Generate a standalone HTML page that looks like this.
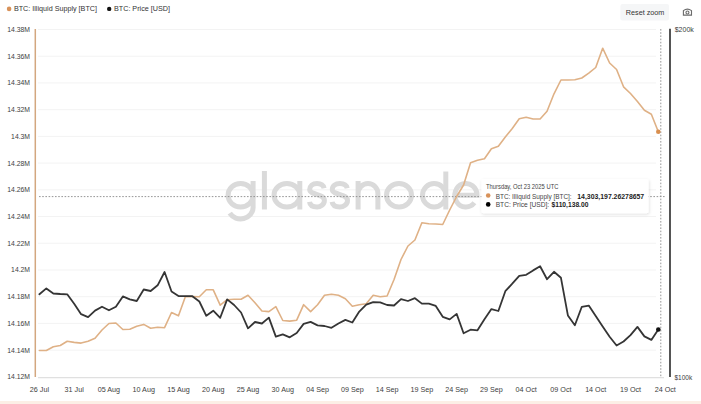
<!DOCTYPE html>
<html><head><meta charset="utf-8">
<style>
html,body{margin:0;padding:0;background:#fff;}
body{width:701px;height:404px;overflow:hidden;position:relative;font-family:"Liberation Sans",sans-serif;}
svg{position:absolute;left:0;top:0;}
.band{position:absolute;left:0;top:401px;width:701px;height:3px;background:#fcefe6;}
</style></head><body>
<svg width="701" height="404" viewBox="0 0 701 404" font-family="Liberation Sans, sans-serif">
<!-- gridlines -->
<line x1="38" y1="29.50" x2="656" y2="29.50" stroke="#f3f3f3" stroke-width="1"/>
<line x1="38" y1="56.22" x2="656" y2="56.22" stroke="#f3f3f3" stroke-width="1"/>
<line x1="38" y1="82.94" x2="656" y2="82.94" stroke="#f3f3f3" stroke-width="1"/>
<line x1="38" y1="109.66" x2="656" y2="109.66" stroke="#f3f3f3" stroke-width="1"/>
<line x1="38" y1="136.38" x2="656" y2="136.38" stroke="#f3f3f3" stroke-width="1"/>
<line x1="38" y1="163.10" x2="656" y2="163.10" stroke="#f3f3f3" stroke-width="1"/>
<line x1="38" y1="189.82" x2="656" y2="189.82" stroke="#f3f3f3" stroke-width="1"/>
<line x1="38" y1="216.54" x2="656" y2="216.54" stroke="#f3f3f3" stroke-width="1"/>
<line x1="38" y1="243.26" x2="656" y2="243.26" stroke="#f3f3f3" stroke-width="1"/>
<line x1="38" y1="269.98" x2="656" y2="269.98" stroke="#f3f3f3" stroke-width="1"/>
<line x1="38" y1="296.70" x2="656" y2="296.70" stroke="#f3f3f3" stroke-width="1"/>
<line x1="38" y1="323.42" x2="656" y2="323.42" stroke="#f3f3f3" stroke-width="1"/>
<line x1="38" y1="350.14" x2="656" y2="350.14" stroke="#f3f3f3" stroke-width="1"/>

<line x1="38" y1="377.6" x2="664" y2="377.6" stroke="#e0e0e0" stroke-width="1.2"/>
<!-- watermark -->
<g fill="none" stroke="#dadada" stroke-width="5.0" id="wm">
<ellipse cx="240.60" cy="195.25" rx="12.50" ry="11.75"/><path d="M253.10 181.00 L253.10 207.50 A12.50 11.40 0 0 1 229.77 213.20"/><line x1="264.40" y1="171.00" x2="264.40" y2="209.50"/><ellipse cx="286.90" cy="195.25" rx="12.90" ry="11.75"/><line x1="299.80" y1="181.00" x2="299.80" y2="209.50"/><path d="M324.10 188.20 C323.20 184.21 320.72 183.50 317.05 183.50 C312.64 183.50 309.70 185.85 309.70 189.61 C309.70 195.25 324.40 193.37 324.40 200.42 C324.40 204.65 320.28 207.00 317.05 207.00 C312.64 207.00 310.00 205.12 309.50 201.83"/><path d="M347.20 188.20 C346.30 184.21 343.70 183.50 339.90 183.50 C335.34 183.50 332.30 185.85 332.30 189.61 C332.30 195.25 347.50 193.37 347.50 200.42 C347.50 204.65 343.24 207.00 339.90 207.00 C335.34 207.00 332.60 205.12 332.10 201.83"/><path d="M358.10 209.50 L358.10 181.00 M358.10 193.40 A9.90 9.90 0 0 1 377.90 193.40 L377.90 209.50"/><ellipse cx="399.00" cy="195.25" rx="12.50" ry="11.75"/><ellipse cx="434.15" cy="195.25" rx="11.65" ry="11.75"/><line x1="445.80" y1="171.50" x2="445.80" y2="209.50"/><path d="M452.80 195.25 L477.00 195.25 A11.10 11.75 0 1 0 474.40 202.80"/>
</g>
<!-- crosshair -->
<line x1="39" y1="196.6" x2="666" y2="196.6" stroke="#8a8a8a" stroke-width="0.9" stroke-dasharray="1.6 1.6"/>
<line x1="660.8" y1="29" x2="660.8" y2="377" stroke="#8a8a8a" stroke-width="0.9" stroke-dasharray="1.6 1.6"/>
<!-- axes -->
<line x1="35.3" y1="29" x2="35.3" y2="377" stroke="#d3a77f" stroke-width="1.5"/>
<line x1="670" y1="28.7" x2="670" y2="377" stroke="#2a2a2a" stroke-width="1.6"/>
<!-- series -->
<polyline points="39.40,350.50 46.35,350.50 53.31,346.70 60.26,345.50 67.22,341.30 74.17,342.40 81.12,343.10 88.08,341.30 95.03,338.30 101.99,330.00 108.94,323.50 115.89,323.00 122.85,329.50 129.80,329.30 136.76,326.30 143.71,324.40 150.66,328.30 157.62,327.30 164.57,327.70 171.53,312.50 178.48,315.80 185.43,296.60 192.39,296.60 199.34,296.70 206.30,289.80 213.25,289.80 220.20,305.20 227.16,299.70 234.11,299.30 241.07,299.30 248.02,295.30 254.97,302.70 261.93,311.00 268.88,311.60 275.84,306.60 282.79,320.50 289.74,321.10 296.70,320.20 303.65,304.70 310.61,311.60 317.56,304.70 324.51,295.30 331.47,294.20 338.42,295.30 345.38,298.70 352.33,306.20 359.28,304.70 366.24,303.70 373.19,295.30 380.15,296.70 387.10,296.00 394.05,279.50 401.01,259.50 407.96,246.00 414.92,240.00 421.87,222.80 428.82,223.80 435.78,224.00 442.73,224.50 449.69,210.00 456.64,196.50 463.59,185.00 470.55,162.80 477.50,160.30 484.46,158.80 491.41,148.80 498.36,146.30 505.32,137.00 512.27,128.50 519.23,118.80 526.18,117.30 533.13,119.00 540.09,119.00 547.04,111.30 554.00,93.80 560.95,80.00 567.90,80.00 574.86,79.80 581.81,78.00 588.77,73.20 595.72,67.50 602.67,48.20 609.63,63.00 616.58,69.50 623.54,86.80 630.49,93.50 637.44,101.50 644.40,110.30 651.35,114.20 658.31,131.80" fill="none" stroke="#dfb186" stroke-width="1.6" stroke-linejoin="round" stroke-linecap="round"/>
<polyline points="39.40,294.30 46.35,288.40 53.31,293.50 60.26,294.00 67.22,294.30 74.17,303.70 81.12,314.20 88.08,317.20 95.03,310.60 101.99,306.70 108.94,310.30 115.89,306.70 122.85,296.40 129.80,299.40 136.76,301.00 143.71,289.50 150.66,291.00 157.62,285.30 164.57,272.00 171.53,291.50 178.48,296.00 185.43,296.20 192.39,296.20 199.34,301.50 206.30,315.80 213.25,310.70 220.20,317.80 227.16,299.40 234.11,305.00 241.07,312.50 248.02,328.30 254.97,322.00 261.93,323.50 268.88,317.60 275.84,336.60 282.79,334.40 289.74,337.30 296.70,333.00 303.65,323.90 310.61,321.90 317.56,325.40 324.51,326.00 331.47,327.80 338.42,323.50 345.38,319.90 352.33,322.50 359.28,311.60 366.24,304.70 373.19,302.10 380.15,302.30 387.10,305.00 394.05,305.50 401.01,299.20 407.96,301.00 414.92,298.20 421.87,303.60 428.82,303.60 435.78,305.90 442.73,316.80 449.69,319.40 456.64,313.90 463.59,333.30 470.55,329.70 477.50,330.30 484.46,319.20 491.41,309.10 498.36,311.00 505.32,291.20 512.27,283.70 519.23,275.80 526.18,274.80 533.13,270.40 540.09,266.30 547.04,279.20 554.00,271.80 560.95,277.80 567.90,315.40 574.86,325.20 581.81,306.80 588.77,305.60 595.72,316.00 602.67,326.40 609.63,336.80 616.58,345.50 623.54,341.50 630.49,335.10 637.44,326.90 644.40,336.40 651.35,339.90 658.31,329.50" fill="none" stroke="#353535" stroke-width="1.8" stroke-linejoin="round" stroke-linecap="round"/>
<circle cx="658.3" cy="131.8" r="2.3" fill="#d98f4f"/>
<circle cx="658.3" cy="329.5" r="2.3" fill="#111"/>
<!-- axis labels -->
<g font-size="6.8" fill="#3d3d3d">
<text x="30.0" y="31.90" text-anchor="end">14.38M</text>
<text x="30.0" y="58.62" text-anchor="end">14.36M</text>
<text x="30.0" y="85.34" text-anchor="end">14.34M</text>
<text x="30.0" y="112.06" text-anchor="end">14.32M</text>
<text x="30.0" y="138.78" text-anchor="end">14.3M</text>
<text x="30.0" y="165.50" text-anchor="end">14.28M</text>
<text x="30.0" y="192.22" text-anchor="end">14.26M</text>
<text x="30.0" y="218.94" text-anchor="end">14.24M</text>
<text x="30.0" y="245.66" text-anchor="end">14.22M</text>
<text x="30.0" y="272.38" text-anchor="end">14.2M</text>
<text x="30.0" y="299.10" text-anchor="end">14.18M</text>
<text x="30.0" y="325.82" text-anchor="end">14.16M</text>
<text x="30.0" y="352.54" text-anchor="end">14.14M</text>
<text x="30.0" y="379.26" text-anchor="end">14.12M</text>

</g>
<g font-size="7.2" fill="#3d3d3d">
<text x="39.40" y="392.2" text-anchor="middle">26 Jul</text>
<text x="74.17" y="392.2" text-anchor="middle">31 Jul</text>
<text x="108.94" y="392.2" text-anchor="middle">05 Aug</text>
<text x="143.71" y="392.2" text-anchor="middle">10 Aug</text>
<text x="178.48" y="392.2" text-anchor="middle">15 Aug</text>
<text x="213.25" y="392.2" text-anchor="middle">20 Aug</text>
<text x="248.02" y="392.2" text-anchor="middle">25 Aug</text>
<text x="282.79" y="392.2" text-anchor="middle">30 Aug</text>
<text x="317.56" y="392.2" text-anchor="middle">04 Sep</text>
<text x="352.33" y="392.2" text-anchor="middle">09 Sep</text>
<text x="387.10" y="392.2" text-anchor="middle">14 Sep</text>
<text x="421.87" y="392.2" text-anchor="middle">19 Sep</text>
<text x="456.64" y="392.2" text-anchor="middle">24 Sep</text>
<text x="491.41" y="392.2" text-anchor="middle">29 Sep</text>
<text x="526.18" y="392.2" text-anchor="middle">04 Oct</text>
<text x="560.95" y="392.2" text-anchor="middle">09 Oct</text>
<text x="595.72" y="392.2" text-anchor="middle">14 Oct</text>
<text x="630.49" y="392.2" text-anchor="middle">19 Oct</text>
<text x="665.26" y="392.2" text-anchor="middle">24 Oct</text>

<text x="674.7" y="32.2" textLength="19.1" lengthAdjust="spacingAndGlyphs">$200k</text>
<text x="674.5" y="380.2" textLength="17.7" lengthAdjust="spacingAndGlyphs">$100k</text>
</g>
<!-- legend -->
<circle cx="9.1" cy="8.9" r="2.3" fill="#d8925a"/>
<text x="13.9" y="11.4" font-size="7.2" fill="#333">BTC: Illiquid Supply [BTC]</text>
<circle cx="109.2" cy="8.9" r="2.2" fill="#111"/>
<text x="114" y="11.4" font-size="7.2" fill="#333">BTC: Price [USD]</text>
<!-- reset zoom -->
<rect x="620.4" y="4.0" width="48.6" height="16.4" rx="2" fill="#f5f6f7"/>
<text x="625.8" y="14.7" font-size="7.7" fill="#333" textLength="38.6" lengthAdjust="spacingAndGlyphs">Reset zoom</text>
<!-- camera -->
<g fill="none" stroke="#6b6b6b" stroke-width="1.1">
<path d="M683.4 15.1 V10.6 Q687.45 7.6 691.5 10.6 V15.1 Z"/>
<circle cx="687.45" cy="12.5" r="1.5"/>
</g>
<!-- tooltip -->
<g>
<defs><filter id="sh" x="-10%" y="-30%" width="120%" height="170%"><feDropShadow dx="0.6" dy="1.2" stdDeviation="1.6" flood-color="#000" flood-opacity="0.13"/></filter></defs>
<rect x="481.4" y="179.0" width="167.2" height="34.2" rx="2" fill="#fff" filter="url(#sh)"/>
<text x="486" y="188.5" font-size="6.3" fill="#444" textLength="72.4" lengthAdjust="spacingAndGlyphs">Thursday, Oct 23 2025 UTC</text>
<circle cx="488.2" cy="195.5" r="2.3" fill="#d8925a"/>
<text x="495.7" y="198.6" font-size="7.0" fill="#444" textLength="75.9" lengthAdjust="spacingAndGlyphs">BTC: Illiquid Supply [BTC]:</text>
<text x="577.3" y="198.6" font-size="6.9" font-weight="bold" fill="#222" textLength="66.9" lengthAdjust="spacingAndGlyphs">14,303,197.26278657</text>
<circle cx="488.2" cy="204.4" r="2.3" fill="#000"/>
<text x="495.7" y="206.8" font-size="7.0" fill="#444" textLength="53.5" lengthAdjust="spacingAndGlyphs">BTC: Price [USD]:</text>
<text x="551.6" y="206.8" font-size="6.9" font-weight="bold" fill="#222" textLength="36.8" lengthAdjust="spacingAndGlyphs">$110,138.00</text>
</g>
</svg>
<div class="band"></div>
</body></html>
